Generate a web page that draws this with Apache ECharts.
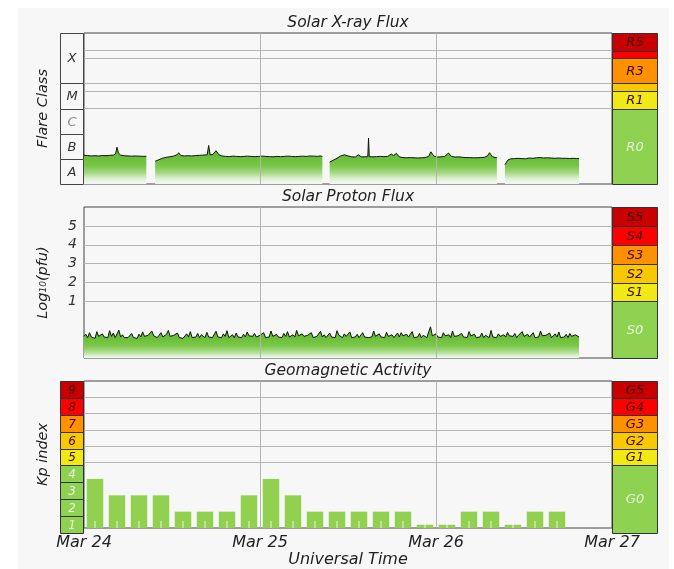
<!DOCTYPE html>
<html><head><meta charset="utf-8">
<script src="https://cdn.jsdelivr.net/npm/echarts@6/dist/echarts.min.js"></script>
<style>
html,body{margin:0;padding:0;background:#fff;}
#bg{position:absolute;left:18px;top:8px;width:651px;height:561px;background:#f7f7f7;}
#chart{position:absolute;left:0;top:0;width:674px;height:569px;}
</style></head><body>
<div id="bg"></div><div id="chart"></div>
<script>
// ---------- DATA ----------
const dayLabels = ['Mar 24', 'Mar 25', 'Mar 26', 'Mar 27'];   // tick labels at 0, 24, 48, 72 h UT

// GOES X-ray flux: hours since Mar 24 00:00 UT, flux in units of 1e-7 W/m^2 (null = data gap)
const xrayHours = [
  0.0,0.5,1.0,1.5,2.0,2.5,3.0,3.5,4.0,4.3,4.5,4.7,5.0,5.5,6.0,6.5,7.0,7.5,8.0,8.5,
  9.0,
  9.7,10.2,10.7,11.2,11.7,12.2,12.7,12.9,13.2,13.7,14.2,14.7,15.2,15.7,16.2,16.8,17.0,17.2,17.6,18.0,18.4,18.8,
  19.3,19.8,20.3,20.8,21.3,21.8,22.3,22.8,23.3,23.8,24.3,24.8,25.3,25.8,26.3,26.8,27.3,27.8,28.3,28.8,29.3,29.8,
  30.3,30.8,31.3,31.8,32.2,32.5,
  33.0,
  33.5,34.0,34.5,35.0,35.5,36.0,36.5,37.0,37.4,37.8,38.3,38.7,38.8,38.9,39.4,39.9,40.4,40.9,41.4,41.9,42.2,42.6,
  43.0,43.5,44.0,44.5,45.0,45.5,46.0,46.5,47.0,47.3,47.7,48.2,48.7,49.2,49.7,50.1,50.6,51.1,51.6,52.1,52.6,53.1,
  53.6,54.1,54.6,55.0,55.3,55.7,56.3,
  56.8,
  57.4,57.8,58.2,58.7,59.2,59.7,60.2,60.7,61.2,61.7,62.2,62.7,63.2,63.7,64.2,64.7,65.2,65.7,66.2,66.7,67.2,67.5
];
const xrayFlux = [
  1.38,1.35,1.30,1.33,1.30,1.35,1.33,1.38,1.40,1.60,2.90,1.70,1.40,1.33,1.30,1.28,1.30,1.28,1.26,1.26,
  null,
  0.80,0.92,1.05,1.15,1.20,1.28,1.45,1.75,1.35,1.30,1.33,1.30,1.35,1.38,1.40,1.45,3.40,1.45,1.50,2.10,1.45,1.30,
  1.25,1.22,1.28,1.25,1.22,1.25,1.28,1.25,1.22,1.25,1.28,1.25,1.22,1.20,1.25,1.22,1.25,1.28,1.25,1.22,1.25,1.28,
  1.25,1.30,1.28,1.25,1.30,1.25,
  null,
  0.75,0.88,1.05,1.30,1.45,1.30,1.20,1.18,1.45,1.20,1.20,1.22,6.70,1.22,1.20,1.22,1.25,1.22,1.25,1.55,1.35,1.65,
  1.20,1.12,1.10,1.12,1.10,1.08,1.10,1.12,1.25,1.90,1.30,1.18,1.20,1.25,1.70,1.25,1.18,1.20,1.15,1.12,1.12,1.10,
  1.10,1.12,1.15,1.30,1.75,1.20,1.10,
  null,
  0.58,0.90,1.00,1.02,1.05,1.02,1.00,1.08,1.05,1.10,1.12,1.08,1.10,1.08,1.05,1.08,1.05,1.05,1.03,1.05,1.03,1.02
];

// GOES >10 MeV proton flux (pfu), every 15 min from Mar 24 00:00 UT
const protonStepHours = 0.25;
const protonFlux = [
  0.14,0.18,0.12,0.22,0.13,0.15,0.11,0.25,0.14,0.12,0.19,0.13,
  0.16,0.12,0.28,0.14,0.21,0.12,0.15,0.30,0.13,0.17,0.12,0.14,
  0.12,0.15,0.20,0.12,0.14,0.11,0.18,0.13,0.24,0.14,0.12,0.16,
  0.13,0.27,0.15,0.19,0.12,0.14,0.22,0.13,0.12,0.18,0.29,0.14,
  0.12,0.16,0.13,0.21,0.12,0.15,0.11,0.14,0.19,0.13,0.25,0.12,
  0.15,0.13,0.20,0.12,0.17,0.14,0.12,0.23,0.13,0.16,0.12,0.14,
  0.26,0.13,0.15,0.12,0.19,0.14,0.28,0.12,0.14,0.17,0.12,0.21,
  0.13,0.15,0.12,0.18,0.13,0.24,0.15,0.12,0.14,0.20,0.13,0.12,
  0.16,0.13,0.22,0.12,0.15,0.13,0.27,0.14,0.12,0.18,0.13,0.15,
  0.12,0.20,0.14,0.25,0.13,0.12,0.17,0.13,0.29,0.15,0.12,0.19,
  0.14,0.12,0.16,0.13,0.22,0.12,0.15,0.14,0.12,0.26,0.13,0.17,
  0.12,0.15,0.21,0.13,0.14,0.12,0.28,0.16,0.13,0.12,0.19,0.14,
  0.13,0.24,0.12,0.15,0.13,0.18,0.12,0.14,0.22,0.13,0.16,0.12,
  0.15,0.13,0.27,0.14,0.12,0.19,0.13,0.15,0.12,0.23,0.14,0.13,
  0.17,0.12,0.14,0.21,0.13,0.22,0.15,0.12,0.18,0.13,0.14,0.25,
  0.12,0.15,0.13,0.20,0.12,0.16,0.14,0.12,0.24,0.45,0.15,0.12,
  0.19,0.13,0.14,0.12,0.22,0.15,0.13,0.17,0.12,0.27,0.14,0.13,
  0.15,0.12,0.20,0.13,0.14,0.12,0.25,0.15,0.13,0.18,0.12,0.14,
  0.13,0.21,0.12,0.16,0.14,0.12,0.29,0.13,0.15,0.12,0.19,0.14,
  0.12,0.17,0.13,0.23,0.15,0.12,0.14,0.20,0.12,0.16,0.13,0.25,
  0.14,0.12,0.18,0.13,0.15,0.22,0.12,0.14,0.13,0.27,0.15,0.12,
  0.16,0.13,0.21,0.12,0.14,0.19,0.13,0.24,0.12,0.15,0.13,0.18,
  0.12,0.20,0.14,0.13,0.17,0.15,0.13
];

// Planetary Kp index, 3-hour intervals starting Mar 24 00 UT (null = not yet available)
const kpSlotHours = 3;
const kpValues = [3,2,2,2,1,1,1,2, 3,2,1,1,1,1,1,0.2, 0.2,1,1,0.2,1,1,null,null];

// scale bands
const flareClassLabels = ['A','B','C','M','X'];
const flareClassEdges  = [1e-8,1e-7,1e-6,1e-5,1e-4,1e-2];          // W/m^2
const radioLabels = ['R0','R1','','R3','','R5'];
const radioEdges  = [1e-8,1e-5,5e-5,1e-4,1e-3,2e-3,1e-2];          // W/m^2
const xrayGridValues = [1e-5,5e-5,1e-4,1e-3,2e-3];
const protonTickLabels = ['1','2','3','4','5'];
const radiationLabels = ['S0','S1','S2','S3','S4','S5'];
const radiationEdges  = [1e-2,1e1,1e2,1e3,1e4,1e5,1e6];             // pfu
const kpCellLabels = ['1','2','3','4','5','6','7','8','9'];
const kpCellEdges  = [0,1,2,3,4,5,6,7,8,9];
const stormLabels = ['G0','G1','G2','G3','G4','G5'];
const stormEdges  = [0,4,5,6,7,8,9];
const kpGridValues = [4,5,6,7,8];

// ---------- STYLE ----------
const FONT = '"DejaVu Sans", sans-serif';
const C = {dr:'#c80000', r:'#ff0000', o:'#ff9100', gd:'#f8c800', y:'#f2e816', g:'#8fd150'};
const DARKTXT = '#3a0a00', LIGHTTXT = '#e8f4dc';
const radioFills = [C.g, C.y, C.gd, C.o, C.r, C.dr];
const radiationFills = [C.g, C.y, C.gd, C.o, C.r, C.dr];
const stormFills = [C.g, C.y, C.gd, C.o, C.r, C.dr];
const kpFills = [C.g, C.g, C.g, C.g, C.y, C.gd, C.o, C.r, C.dr];
const scaleText = fills => fills.map(f => f === C.g ? LIGHTTXT : DARKTXT);
const flareText = flareClassLabels.map(l => l === 'C' ? '#8a8a8a' : '#333');
const flareFills = flareClassLabels.map(() => '#f7f7f7');

const lg10 = Math.log10;
const xrayData = xrayHours.map((h, i) => [h, xrayFlux[i] == null ? '-' : lg10(xrayFlux[i] * 1e-7)]);
const protonData = protonFlux.map((v, i) => [i * protonStepHours, lg10(v)]);
const kpData = [], kpTicks = [];
kpValues.forEach((v, i) => {
  if (v != null) { const c = i * kpSlotHours + kpSlotHours / 2; kpData.push([c, v]); kpTicks.push([c, 0]); }
});

function it(size, color) { return {fontFamily: FONT, fontStyle: 'italic', fontWeight: 'normal', fontSize: size, color: color}; }

function bandSeries(idx, edges, labels, fills, txt, fontSize, stroke) {
  return {
    type: 'custom', xAxisIndex: idx, yAxisIndex: idx, silent: true, animation: false, clip: false,
    data: labels.map((l, i) => [0.5, edges[i], edges[i + 1]]),
    encode: {x: 0, y: [1, 2]},
    renderItem: function (params, api) {
      const i = params.dataIndex;
      const a = api.coord([0, api.value(2)]);
      const b = api.coord([1, api.value(1)]);
      const x0 = Math.round(a[0]) + 0.5, y0 = Math.round(a[1]) + 0.5;
      const x1 = Math.round(b[0]) - 0.5, y1 = Math.round(b[1]) + 0.5;
      return {type: 'group', children: [
        {type: 'rect', shape: {x: x0, y: y0, width: x1 - x0, height: y1 - y0},
         style: {fill: fills[i], stroke: stroke, lineWidth: 1}},
        {type: 'text', x: (x0 + x1) / 2, y: (y0 + y1) / 2 + 0.5,
         style: {text: labels[i], fill: txt[i], font: 'italic ' + fontSize + 'px ' + FONT,
                 align: 'center', verticalAlign: 'middle'}}
      ]};
    }
  };
}
function logEdges(arr) { return arr.map(v => lg10(v)); }

const hidden = {show: false};
function mainX(g, extra) {
  return Object.assign({type: 'value', gridIndex: g, min: 0, max: 72, interval: 24,
    axisLine: hidden, axisTick: hidden, axisLabel: hidden, splitLine: hidden}, extra || {});
}
function colX(g) { return {type: 'value', gridIndex: g, min: 0, max: 1, show: false}; }
function yAx(g, min, max, extra) {
  return Object.assign({type: 'value', gridIndex: g, min: min, max: max, interval: 1,
    axisLine: hidden, axisTick: hidden, axisLabel: hidden, splitLine: hidden}, extra || {});
}
function titleAx(g, text) {
  return {type: 'value', gridIndex: g, position: 'top', min: 0, max: 72, name: text, nameLocation: 'middle',
    nameGap: 2, nameTextStyle: it(15.5, '#222'), axisLine: hidden, axisTick: hidden, axisLabel: hidden, splitLine: hidden};
}
const gridLine = {color: '#b4b4b4', width: 1, type: 'solid'};
function marks(yVals) {
  return {silent: true, symbol: 'none', label: hidden, lineStyle: gridLine, animation: false,
    data: yVals.map(v => ({yAxis: v})).concat([{xAxis: 24}, {xAxis: 48}])};
}
const frame = {show: true, borderColor: '#444', borderWidth: 1, backgroundColor: 'transparent'};

const option = {
  animation: false,
  grid: [
    Object.assign({left: 84, top: 33, width: 528, height: 151}, frame),   // 0 X-ray plot
    {left: 60, top: 33, width: 24, height: 151},                          // 1 flare class column
    {left: 612, top: 33, width: 46, height: 151},                         // 2 R scale
    Object.assign({left: 84, top: 207, width: 528, height: 151}, frame),  // 3 proton plot
    {left: 612, top: 207, width: 46, height: 151},                        // 4 S scale
    Object.assign({left: 84, top: 381, width: 528, height: 152}, frame),  // 5 Kp plot
    {left: 60, top: 381, width: 24, height: 152},                         // 6 Kp column
    {left: 612, top: 381, width: 46, height: 152}                         // 7 G scale
  ],
  xAxis: [
    mainX(0), colX(1), colX(2), mainX(3), colX(4),
    mainX(5, {axisLabel: Object.assign({show: true, margin: 7, showMinLabel: true, showMaxLabel: true,
              formatter: v => dayLabels[Math.round(v / 24)]}, it(16, '#222')),
              name: 'Universal Time', nameLocation: 'middle', nameGap: 24, nameTextStyle: it(16, '#222')}),
    colX(6), colX(7),
    titleAx(0, 'Solar X-ray Flux'), titleAx(3, 'Solar Proton Flux'), titleAx(5, 'Geomagnetic Activity')
  ],
  yAxis: [
    yAx(0, -8, -2, {name: 'Flare Class', nameLocation: 'middle', nameGap: 33, nameTextStyle: it(14.5, '#222')}),
    yAx(1, -8, -2), yAx(2, -8, -2),
    yAx(3, -2, 6, {axisLabel: Object.assign({show: true, margin: 7,
        formatter: v => (v >= 1 && v <= 5) ? protonTickLabels[v - 1] : ''}, it(14, '#333')),
      name: 'Log{sub|10}(pfu)', nameLocation: 'middle', nameGap: 33,
      nameTextStyle: Object.assign(it(14.5, '#222'), {rich: {sub: it(9, '#222')}})}),
    yAx(4, -2, 6),
    yAx(5, 0, 9, {name: 'Kp index', nameLocation: 'middle', nameGap: 33, nameTextStyle: it(14.5, '#222')}),
    yAx(6, 0, 9), yAx(7, 0, 9)
  ],
  series: [
    {type: 'line', xAxisIndex: 0, yAxisIndex: 0, data: xrayData, showSymbol: false, connectNulls: false,
     lineStyle: {color: '#111', width: 1}, areaStyle: {origin: 'start', opacity: 1, color: {type: 'linear', x: 0, y: 0, x2: 0, y2: 1,
       colorStops: [{offset: 0, color: '#5cb82e'}, {offset: 0.38, color: '#66bd37'}, {offset: 0.6, color: '#78c548'},
                    {offset: 0.76, color: '#a6d985'}, {offset: 0.88, color: '#dcf0cf'}, {offset: 1, color: '#f7f7f7'}]}},
     markLine: marks(logEdges(xrayGridValues))},
    {type: 'line', xAxisIndex: 3, yAxisIndex: 3, data: protonData, showSymbol: false,
     lineStyle: {color: '#111', width: 1}, areaStyle: {origin: 'start', opacity: 1, color: {type: 'linear', x: 0, y: 0, x2: 0, y2: 1,
       colorStops: [{offset: 0, color: '#5cb82e'}, {offset: 0.3, color: '#66bd37'}, {offset: 0.6, color: '#7ac748'},
                    {offset: 0.8, color: '#abdc8c'}, {offset: 0.94, color: '#e2f2d7'}, {offset: 1, color: '#f3f9ef'}]}},
     markLine: marks([1, 2, 3, 4, 5])},
    {type: 'bar', xAxisIndex: 5, yAxisIndex: 5, data: kpData, barWidth: 16.5, itemStyle: {color: '#92d050'},
     markLine: marks(kpGridValues)},
    {type: 'scatter', xAxisIndex: 5, yAxisIndex: 5, data: kpTicks, symbol: 'rect', symbolSize: [1, 7],
     symbolOffset: [0, -3.5], itemStyle: {color: '#ffffff'}, silent: true, z: 4, clip: false},
    bandSeries(1, logEdges(flareClassEdges), flareClassLabels, flareFills, flareText, 13, '#444'),
    bandSeries(2, logEdges(radioEdges), radioLabels, radioFills, scaleText(radioFills), 13, '#333'),
    bandSeries(4, logEdges(radiationEdges), radiationLabels, radiationFills, scaleText(radiationFills), 13, '#333'),
    bandSeries(6, kpCellEdges, kpCellLabels, kpFills, scaleText(kpFills), 12, '#333'),
    bandSeries(7, stormEdges, stormLabels, stormFills, scaleText(stormFills), 13, '#333')
  ]
};
const chart = echarts.init(document.getElementById('chart'), null, {renderer: 'canvas'});
chart.setOption(option);
</script></body></html>
